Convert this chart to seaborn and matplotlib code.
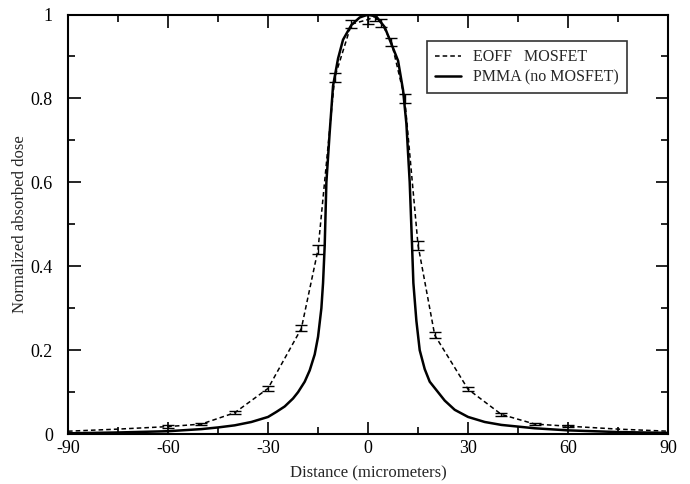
import numpy as np
import pandas as pd
import seaborn as sns
import matplotlib.pyplot as plt
from matplotlib.ticker import MultipleLocator, FuncFormatter

# EOFF MOSFET measurements (dashed, with error bars)
mosfet_x = [-90, -75, -60, -50, -40, -30, -20, -15, -10, -5, 0, 2, 4, 7,
            11, 15, 20, 30, 40, 50, 60, 75, 90]
mosfet_y = [0.007, 0.012, 0.018, 0.024, 0.051, 0.109, 0.252, 0.44, 0.85,
            0.977, 0.988, 0.995, 0.98, 0.935, 0.80, 0.45, 0.236, 0.107,
            0.047, 0.024, 0.019, 0.012, 0.007]
mosfet_err = [0, 0, 0.003, 0.003, 0.004, 0.005, 0.007, 0.01, 0.01, 0.01,
              0.01, 0.01, 0.01, 0.01, 0.01, 0.01, 0.007, 0.005, 0.004,
              0.003, 0.003, 0, 0]

# PMMA (no MOSFET) profile (solid)
pmma_x = [-90, -75, -60, -50, -45, -40, -35, -30, -27.5, -25, -22.5, -21,
          -19, -17.5, -16, -15, -14, -13.5, -13, -12.5, -11.5, -10.5, -9,
          -7.5, -5, -2.5, 0, 2.5, 5, 7, 9, 10.5, 11.5, 12.5, 13.2, 13.6,
          14.5, 15.5, 17, 18.5, 20.5, 23, 26, 30, 35, 40, 45, 50, 60, 75, 90]
pmma_y = [0.002, 0.004, 0.007, 0.012, 0.016, 0.021, 0.029, 0.041, 0.053,
          0.066, 0.085, 0.10, 0.125, 0.152, 0.19, 0.232, 0.30, 0.36, 0.45,
          0.60, 0.72, 0.83, 0.895, 0.94, 0.975, 0.993, 1.0, 0.995, 0.97,
          0.93, 0.89, 0.82, 0.74, 0.60, 0.45, 0.36, 0.27, 0.20, 0.155,
          0.125, 0.105, 0.08, 0.058, 0.041, 0.029, 0.022, 0.018, 0.014,
          0.009, 0.005, 0.003]

df_m = pd.DataFrame({"x": mosfet_x, "y": mosfet_y, "err": mosfet_err})
df_p = pd.DataFrame({"x": pmma_x, "y": pmma_y})

sns.set_style("ticks")
plt.rcParams['font.family'] = ['Liberation Serif', 'DejaVu Serif']
plt.rcParams['axes.unicode_minus'] = False

fig = plt.figure(figsize=(6.9, 4.84), dpi=100)
ax = fig.add_axes([0.0986, 0.103, 0.8696, 0.867])

sns.lineplot(data=df_m, x="x", y="y", ax=ax, color="black", lw=1.1,
             linestyle=(0, (3, 2)), label="EOFF   MOSFET", sort=False)
sns.lineplot(data=df_p, x="x", y="y", ax=ax, color="black", lw=1.8,
             label="PMMA (no MOSFET)", sort=False)

# error bars
eb = df_m[df_m["err"] > 0]
ax.errorbar(eb["x"], eb["y"], yerr=eb["err"], fmt="none", ecolor="black",
            elinewidth=1.0, capsize=4, capthick=1.0)

ax.set_xlim(-90, 90)
ax.set_ylim(0, 1)
ax.xaxis.set_major_locator(MultipleLocator(30))
ax.xaxis.set_minor_locator(MultipleLocator(15))
ax.yaxis.set_major_locator(MultipleLocator(0.2))
ax.yaxis.set_minor_locator(MultipleLocator(0.1))
ax.yaxis.set_major_formatter(FuncFormatter(lambda v, p: f"{v:g}"))
ax.tick_params(which="both", direction="in", top=True, right=True,
               labelsize=13, width=1.2, colors="black")
ax.tick_params(which="major", length=9)
ax.tick_params(axis="y", which="major", pad=11)
ax.tick_params(axis="x", which="major", pad=4)
ax.tick_params(which="minor", length=5)
for s in ax.spines.values():
    s.set_linewidth(1.5)
    s.set_color("black")

ax.set_xlabel("Distance (micrometers)", fontsize=12, labelpad=6)
ax.set_ylabel("Normalized absorbed dose", fontsize=12, labelpad=2)

leg = ax.legend(loc="upper left", bbox_to_anchor=(0.585, 0.955), fontsize=11.5,
                frameon=True, fancybox=False, edgecolor="black",
                handlelength=1.6, borderpad=0.5, labelspacing=0.25)
leg.get_frame().set_linewidth(1.2)

fig.savefig("out.png", dpi=100)
